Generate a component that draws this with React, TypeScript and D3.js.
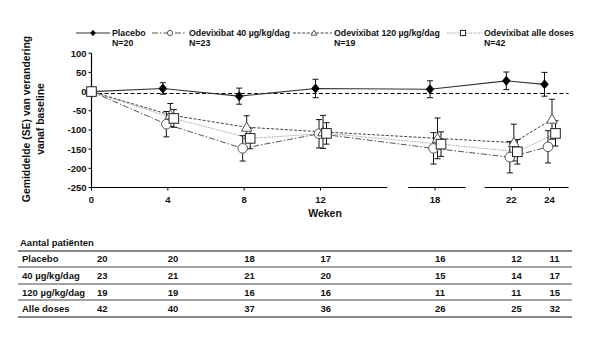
import React from "react";
import * as d3 from "d3";

const weeks = [0, 4, 8, 12, 18, 22, 24];
const seriesNames = ["Placebo", "Odevixibat 40 µg/kg/dag", "Odevixibat 120 µg/kg/dag", "Odevixibat alle doses"];
const seriesN = ["N=20", "N=23", "N=19", "N=42"];
const placeboMean = [0, 8, -12, 8, 6, 28, 19];
const placeboSE = [0, 15, 21, 24, 22, 23, 31];
const dose40Mean = [0, -85, -148, -110, -148, -171, -144];
const dose40SE = [0, 33, 33, 37, 41, 41, 42];
const dose120Mean = [0, -61, -93, -105, -122, -133, -72];
const dose120SE = [0, 30, 30, 43, 53, 48, 52];
const allMean = [0, -70, -122, -109, -137, -157, -109];
const allSE = [0, 23, 27, 28, 32, 32, 33];
const yTicks = [100, 50, 0, -50, -100, -150, -200, -250];
const refLine = -5;

const tableTitle = "Aantal patiënten";
const tableRows = ["Placebo", "40 µg/kg/dag", "120 µg/kg/dag", "Alle doses"];
const tablePlacebo = [20, 20, 18, 17, 16, 12, 11];
const table40 = [23, 21, 21, 20, 15, 14, 17];
const table120 = [19, 19, 16, 16, 11, 11, 15];
const tableAll = [42, 40, 37, 36, 26, 25, 32];

const FONT = "'Liberation Sans', Arial, sans-serif";

export default function App() {
  const x = d3.scaleLinear().domain([0, 24]).range([91.5, 549.5]);
  const y = d3.scaleLinear().domain([-250, 100]).range([187.5, 53.2]);

  const means = [placeboMean, dose40Mean, dose120Mean, allMean];
  const ses = [placeboSE, dose40SE, dose120SE, allSE];
  const dodge = [-5, -1.5, 2.5, 6];
  const lineStyles = [
    { stroke: "#333", dash: "none", w: 1.2 },
    { stroke: "#555", dash: "6,2,1.5,2", w: 1 },
    { stroke: "#444", dash: "3,1.6", w: 1 },
    { stroke: "#a8a8a8", dash: "1.6,1", w: 1 },
  ];
  const px = (w: number, i: number) => x(w) + (w === 0 ? 0 : dodge[i]);

  const marker = (i: number, cx: number, cy: number, s: number, key?: string) => {
    if (i === 0) {
      const h = s * 1.05;
      return <path key={key} d={`M${cx},${cy - h}L${cx + h * 0.85},${cy}L${cx},${cy + h}L${cx - h * 0.85},${cy}Z`} fill="#000" stroke="#000" strokeWidth={0.8} />;
    }
    if (i === 1) return <circle key={key} cx={cx} cy={cy} r={s} fill="#fff" stroke="#555" strokeWidth={1} />;
    if (i === 2) {
      const h = s * 1.1;
      return <path key={key} d={`M${cx},${cy - h}L${cx + h},${cy + h * 0.75}L${cx - h},${cy + h * 0.75}Z`} fill="#fff" stroke="#555" strokeWidth={1} />;
    }
    return <rect key={key} x={cx - s} y={cy - s} width={2 * s} height={2 * s} fill="#fff" stroke="#222" strokeWidth={1} />;
  };

  const lineGen = (i: number) =>
    d3.line<number>().x((_, k) => px(weeks[k], i)).y((v) => y(v))(means[i]) || "";

  const axisSegments = [
    [0, 15.5],
    [16.6, 19.6],
    [20.6, 25],
  ];

  const legendX = [
    { x0: 76, x1: 110, m: 93, tx: 112 },
    { x0: 152, x1: 186, m: 170, tx: 189 },
    { x0: 293, x1: 332, m: 314, tx: 334 },
    { x0: 447, x1: 482, m: 463, tx: 484 },
  ];

  const tableData = [tablePlacebo, table40, table120, tableAll];
  const rowY = [259, 276, 293, 309];
  const lineYs = [251, 267, 284, 300, 317];

  return (
    <svg width={604} height={344} style={{ position: "absolute", left: 0, top: 0, background: "#fff" }} fontFamily={FONT}>
      {/* legend */}
      {legendX.map((l, i) => (
        <g key={"lg" + i}>
          <line x1={l.x0} x2={l.x1} y1={33} y2={33} stroke={lineStyles[i].stroke} strokeWidth={1} strokeDasharray={lineStyles[i].dash} />
          {marker(i, l.m, 33, 2.6)}
          <text x={l.tx} y={36.3} fontSize={8.8} fontWeight="bold" fill="#111">{seriesNames[i]}</text>
          <text x={l.tx} y={46.3} fontSize={8.8} fontWeight="bold" fill="#111">{seriesN[i]}</text>
        </g>
      ))}

      {/* y axis */}
      <line x1={x(0)} x2={x(0)} y1={y(100)} y2={y(-250)} stroke="#000" strokeWidth={1.2} />
      {yTicks.map((t) => (
        <g key={"yt" + t}>
          <line x1={x(0) - 3} x2={x(0)} y1={y(t)} y2={y(t)} stroke="#000" strokeWidth={1} />
          <text x={x(0) - 5} y={y(t) + 3.5} fontSize={9.5} fontWeight="bold" textAnchor="end" fill="#111">{t}</text>
        </g>
      ))}
      <text transform={`translate(30,119) rotate(-90)`} textAnchor="middle" fontSize={10.4} fontWeight="bold" fill="#111">Gemiddelde (SE) van verandering</text>
      <text transform={`translate(44,119) rotate(-90)`} textAnchor="middle" fontSize={10.4} fontWeight="bold" fill="#111">vanaf baseline</text>

      {/* x axis */}
      {axisSegments.map((s, k) => (
        <line key={"ax" + k} x1={x(s[0])} x2={x(s[1])} y1={y(-250)} y2={y(-250)} stroke="#000" strokeWidth={1.2} />
      ))}
      {weeks.map((w) => (
        <g key={"xt" + w}>
          <line x1={x(w)} x2={x(w)} y1={y(-250)} y2={y(-250) + 3} stroke="#000" strokeWidth={1} />
          <text x={x(w)} y={y(-250) + 15} fontSize={9.5} fontWeight="bold" textAnchor="middle" fill="#111">{w}</text>
        </g>
      ))}
      <text x={325} y={217} fontSize={10.5} fontWeight="bold" textAnchor="middle" fill="#111">Weken</text>

      {/* reference line */}
      <line x1={x(0)} x2={x(25)} y1={y(refLine)} y2={y(refLine)} stroke="#000" strokeWidth={1} strokeDasharray="4,2.5" />

      {/* lines */}
      {[3, 2, 1, 0].map((i) => (
        <path key={"ln" + i} d={lineGen(i)} fill="none" stroke={lineStyles[i].stroke} strokeWidth={lineStyles[i].w} strokeDasharray={lineStyles[i].dash} />
      ))}

      {/* error bars */}
      {means.map((m, i) =>
        m.map((v, k) => {
          if (ses[i][k] === 0) return null;
          const cx = px(weeks[k], i);
          const top = y(v + ses[i][k]);
          const bot = y(v - ses[i][k]);
          return (
            <g key={"eb" + i + "-" + k} stroke="#111" strokeWidth={1}>
              <line x1={cx} x2={cx} y1={top} y2={bot} />
              <line x1={cx - 3} x2={cx + 3} y1={top} y2={top} />
              <line x1={cx - 3} x2={cx + 3} y1={bot} y2={bot} />
            </g>
          );
        })
      )}

      {/* markers */}
      {means.map((m, i) => m.map((v, k) => marker(i, px(weeks[k], i), y(v), i === 0 ? 4.3 : 4.8, "mk" + i + "-" + k)))}

      {/* table */}
      <text x={20} y={245.5} fontSize={9.5} fontWeight="bold" fill="#111">{tableTitle}</text>
      {lineYs.map((ly, k) => (
        <line key={"tl" + k} x1={18} x2={572} y1={ly} y2={ly} stroke={k === 0 || k === lineYs.length - 1 ? "#111" : "#444"} strokeWidth={1.2} />
      ))}
      {tableRows.map((r, ri) => (
        <g key={"tr" + ri}>
          <text x={22} y={rowY[ri] + 3.4} fontSize={9.5} fontWeight="bold" fill="#111">{r}</text>
          {tableData[ri].map((n, k) => (
            <text key={"tc" + k} x={Math.max(x(weeks[k]), 97)} y={rowY[ri] + 3.4} fontSize={9.5} fontWeight="bold" fill="#111">{n}</text>
          ))}
        </g>
      ))}
    </svg>
  );
}
